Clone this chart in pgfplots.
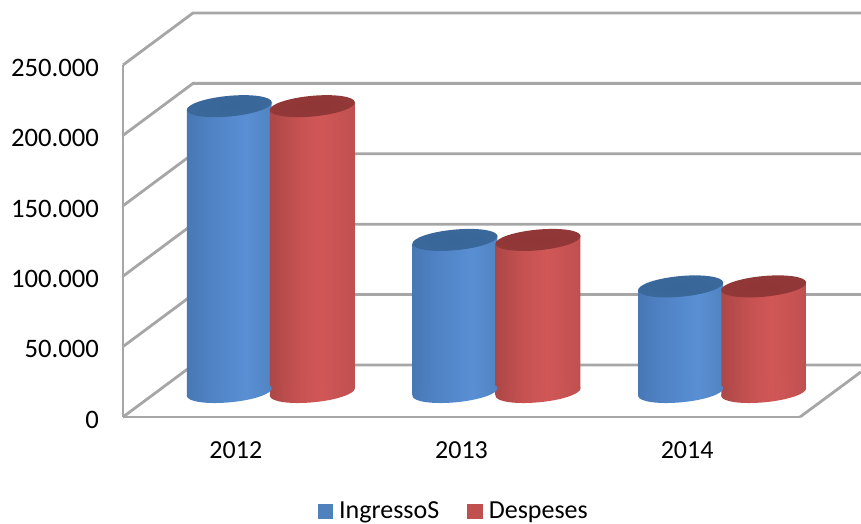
\documentclass[border=0pt]{standalone}
\usepackage{fontspec}
\setmainfont{Carlito}
\usepackage{pgfplots}
\pgfplotsset{compat=1.18}

\definecolor{wallgray}{HTML}{A6A6A6}
\definecolor{legblue}{HTML}{4F81BD}
\definecolor{legred}{HTML}{C0504D}

% cylinder sides, dark at the rims
\pgfdeclarehorizontalshading{bluecyl}{100bp}{rgb(0bp)=(.16,.30,.46); rgb(6bp)=(.20,.36,.55); rgb(16bp)=(.26,.44,.66); rgb(38bp)=(.31,.51,.77); rgb(60bp)=(.35,.56,.83); rgb(80bp)=(.30,.50,.73); rgb(93bp)=(.24,.42,.62); rgb(100bp)=(.18,.34,.52)}
\pgfdeclarehorizontalshading{redcyl}{100bp}{rgb(0bp)=(.40,.15,.15); rgb(8bp)=(.52,.20,.20); rgb(22bp)=(.66,.27,.27); rgb(42bp)=(.78,.32,.32); rgb(55bp)=(.82,.34,.34); rgb(78bp)=(.74,.31,.31); rgb(92bp)=(.56,.22,.22); rgb(100bp)=(.38,.15,.15)}
% cylinder tops
\pgfdeclareradialshading{bluetop}{\pgfpointorigin}{rgb(0bp)=(.22,.40,.60); rgb(30bp)=(.23,.41,.61); rgb(44bp)=(.26,.45,.66); rgb(50bp)=(.30,.50,.72)}
\pgfdeclareradialshading{redtop}{\pgfpointorigin}{rgb(0bp)=(.56,.21,.21); rgb(30bp)=(.58,.22,.22); rgb(44bp)=(.66,.26,.26); rgb(50bp)=(.74,.30,.30)}

\newcommand{\capellipse}{\pgfpathellipse{\pgfpointorigin}{\pgfqpoint{31.9pt}{3pt}}{\pgfqpoint{-.8pt}{7.7pt}}}
\pgfdeclareplotmark{bluebase}{\capellipse\pgfshadepath{bluecyl}{0}\pgfusepath{discard}}
\pgfdeclareplotmark{redbase}{\capellipse\pgfshadepath{redcyl}{0}\pgfusepath{discard}}
\pgfdeclareplotmark{bluecap}{\capellipse\pgfshadepath{bluetop}{0}\pgfusepath{discard}}
\pgfdeclareplotmark{redcap}{\capellipse\pgfshadepath{redtop}{0}\pgfusepath{discard}}

\pgfplotsset{
  wall/.style={forget plot, draw=wallgray, line width=2.1pt, mark=none},
  blueser/.style={forget plot, xshift=-4.9pt, yshift=18.75pt},
  redser/.style={forget plot, xshift=57.4pt, yshift=18.75pt},
}

\begin{document}
\begin{tikzpicture}
\useasboundingbox (-92.25pt,-80.25pt) rectangle (553.5pt,312.75pt);
\begin{axis}[
    scale only axis,
    width=507.75pt,
    height=264pt,
    xmin=0, xmax=3,
    ymin=0, ymax=250000,
    clip=false,
    axis lines=left,
    axis line style={-, draw=wallgray, line width=2.1pt},
    major tick length=0pt,
    xtick={0.5,1.5,2.5},
    xticklabels={2012,2013,2014},
    ytick={0,50000,100000,150000,200000,250000},
    yticklabels={0,50.000,100.000,150.000,200.000,250.000},
    scaled y ticks=false,
    tick label style={font=\fontsize{19.5}{22}\selectfont},
    xticklabel style={yshift=-15pt},
    yticklabel style={xshift=-14.5pt, yshift=-2pt, font=\fontsize{20}{22}\selectfont},
    legend columns=2,
    legend style={at={(axis description cs:0.489,-0.268)}, anchor=center,
      draw=none, fill=none, font=\fontsize{19.5}{22}\selectfont,
      /tikz/every even column/.append style={column sep=19pt}},
]
\addlegendimage{legend image code/.code={\path[draw=none, fill=none] (0pt,-5.5pt) rectangle (14pt,5.5pt); \fill[legblue] (0pt,-5.5pt) rectangle (11pt,5.5pt);}}
\addlegendentry{IngressoS}
\addlegendimage{legend image code/.code={\path[draw=none, fill=none] (0pt,-5.5pt) rectangle (14pt,5.5pt); \fill[legred] (0pt,-5.5pt) rectangle (11pt,5.5pt);}}
\addlegendentry{Despeses}

% walls and floor
\addplot[wall] coordinates {(0,0) (0.3102,36932) (3.27,36932)};
\addplot[wall] coordinates {(0,50000) (0.3102,86932) (3.27,86932)};
\addplot[wall] coordinates {(0,100000) (0.3102,136932) (3.27,136932)};
\addplot[wall] coordinates {(0,150000) (0.3102,186932) (3.27,186932)};
\addplot[wall] coordinates {(0,200000) (0.3102,236932) (3.27,236932)};
\addplot[wall] coordinates {(0,250000) (0.3102,286932) (3.27,286932)};
\addplot[wall] coordinates {(3,0) (3.27,32000)};

% 2012
\addplot[blueser, only marks, mark=bluebase] coordinates {(0.5,0)};
\addplot[blueser, draw=none, shade, shading=bluecyl] coordinates {(0.312,-2500) (0.312,200500) (0.688,205500) (0.688,2500)};
\addplot[blueser, only marks, mark=bluecap] coordinates {(0.5,203000)};
\addplot[redser, only marks, mark=redbase] coordinates {(0.5,0)};
\addplot[redser, draw=none, shade, shading=redcyl] coordinates {(0.312,-2500) (0.312,200500) (0.688,205500) (0.688,2500)};
\addplot[redser, only marks, mark=redcap] coordinates {(0.5,203000)};
% 2013
\addplot[blueser, only marks, mark=bluebase] coordinates {(1.5,0)};
\addplot[blueser, draw=none, shade, shading=bluecyl] coordinates {(1.312,-2500) (1.312,105500) (1.688,110500) (1.688,2500)};
\addplot[blueser, only marks, mark=bluecap] coordinates {(1.5,108000)};
\addplot[redser, only marks, mark=redbase] coordinates {(1.5,0)};
\addplot[redser, draw=none, shade, shading=redcyl] coordinates {(1.312,-2500) (1.312,105500) (1.688,110500) (1.688,2500)};
\addplot[redser, only marks, mark=redcap] coordinates {(1.5,108000)};
% 2014
\addplot[blueser, only marks, mark=bluebase] coordinates {(2.5,0)};
\addplot[blueser, draw=none, shade, shading=bluecyl] coordinates {(2.312,-2500) (2.312,72500) (2.688,77500) (2.688,2500)};
\addplot[blueser, only marks, mark=bluecap] coordinates {(2.5,75000)};
\addplot[redser, only marks, mark=redbase] coordinates {(2.5,0)};
\addplot[redser, draw=none, shade, shading=redcyl] coordinates {(2.312,-2500) (2.312,72500) (2.688,77500) (2.688,2500)};
\addplot[redser, only marks, mark=redcap] coordinates {(2.5,75000)};
\end{axis}
\end{tikzpicture}
\end{document}
